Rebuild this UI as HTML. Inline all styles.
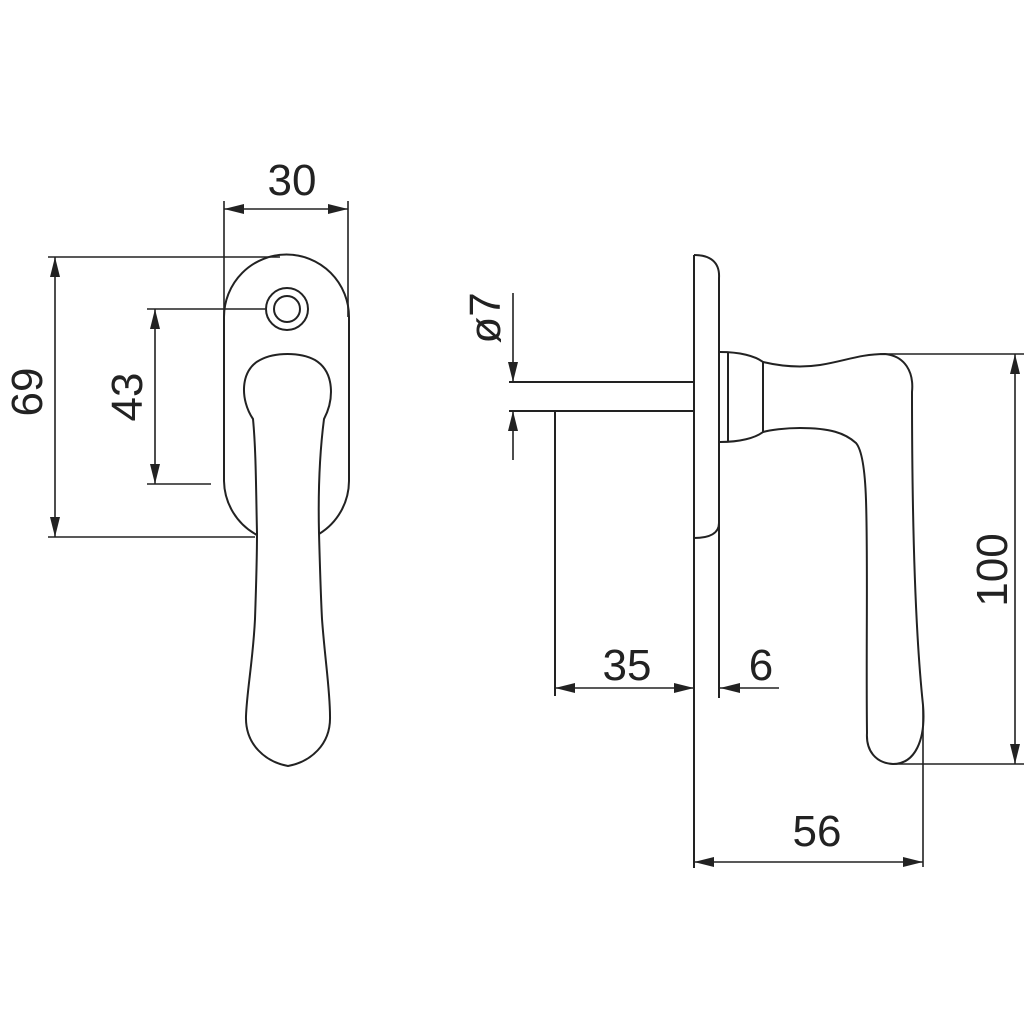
<!DOCTYPE html>
<html><head><meta charset="utf-8"><style>html,body{margin:0;padding:0;background:#fff}svg{display:block}</style></head>
<body>
<svg width="1024" height="1024" viewBox="0 0 1024 1024" xmlns="http://www.w3.org/2000/svg">
<defs>
<marker id="a" viewBox="0 0 20 10" refX="20" refY="5" markerWidth="20" markerHeight="10" markerUnits="userSpaceOnUse" orient="auto-start-reverse"><path d="M0,0 L20,5 L0,10 Z" fill="#222"/></marker>
</defs>
<g fill="none" stroke="#222" stroke-width="2">
<path d="M224,317 A62.5,62.5 0 0 1 349,317 L349,481 A62.5,62.5 0 0 1 319,534"/>
<path d="M224,317 L224,481 A62.5,62.5 0 0 0 257,535"/>
<circle cx="287" cy="309" r="21"/>
<circle cx="287" cy="309" r="13"/>
<path d="M253,419 C240,400 240,370 260,360 C275,352 300,352 315,360 C335,372 334,400 324,419 C320,450 318,490 319,533 C320,570 321,600 322,619 C325,660 330,690 330,716 C331,745 310,762 288,766 C266,762 245,745 246,716 C247,690 253,660 255,619 C256,590 257,560 257,533 C256,490 256,450 253,419 Z"/>
<path d="M694,255 L694,868"/>
<path d="M694,255 C710,255 720,262 719,278 L719,523 C719,533 710,538 694,538"/>
<path d="M719,523 L719,698"/>
<path d="M720,352 C740,352 755,356 763,362 L763,432 C755,438 740,442 720,442"/>
<path d="M728,352 L728,442"/>
<path d="M763,362 C780,366 800,368 820,365 C845,361 860,354 885,354 C905,356 914,372 912,392 C912,500 914,620 923,705 C926,740 915,764 893,764 C875,763 866,750 867,733 C866,650 868,560 866,500 C865,470 862,450 856,443 C845,433 830,428 800,428 C785,428 770,430 763,432"/>
<path d="M509,382 L694,382 M509,411 L694,411 M555,411 L555,696"/>
<g stroke-width="1.6">
<path d="M224,201 L224,317 M348,201 L348,317"/>
<path d="M224,209 L348,209" marker-start="url(#a)" marker-end="url(#a)"/>
<path d="M48,257 L280,257 M48,537 L255,537"/>
<path d="M55,257 L55,537" marker-start="url(#a)" marker-end="url(#a)"/>
<path d="M147,309 L265,309 M147,484 L211,484"/>
<path d="M155,309 L155,484" marker-start="url(#a)" marker-end="url(#a)"/>
<path d="M513,293 L513,382" marker-end="url(#a)"/>
<path d="M513,460 L513,411" marker-end="url(#a)"/>
<path d="M555,688 L694,688" marker-start="url(#a)" marker-end="url(#a)"/>
<path d="M779,688 L720,688" marker-end="url(#a)"/>
<path d="M923,705 L923,867"/>
<path d="M694,862 L923,862" marker-start="url(#a)" marker-end="url(#a)"/>
<path d="M880,354 L1024,354 M893,764 L1024,764"/>
<path d="M1015,354 L1015,764" marker-start="url(#a)" marker-end="url(#a)"/>
</g>
</g>
<g font-family="Liberation Sans, sans-serif" font-size="44" fill="#222" text-anchor="middle">
<text x="292" y="195">30</text>
<text x="627" y="680">35</text>
<text x="761" y="680">6</text>
<text x="817" y="846">56</text>
<text transform="translate(42,392) rotate(-90)">69</text>
<text transform="translate(142,397) rotate(-90)">43</text>
<text transform="translate(500,318) rotate(-90)">ø7</text>
<text transform="translate(1007,570) rotate(-90)">100</text>
</g>
</svg>
</body></html>
